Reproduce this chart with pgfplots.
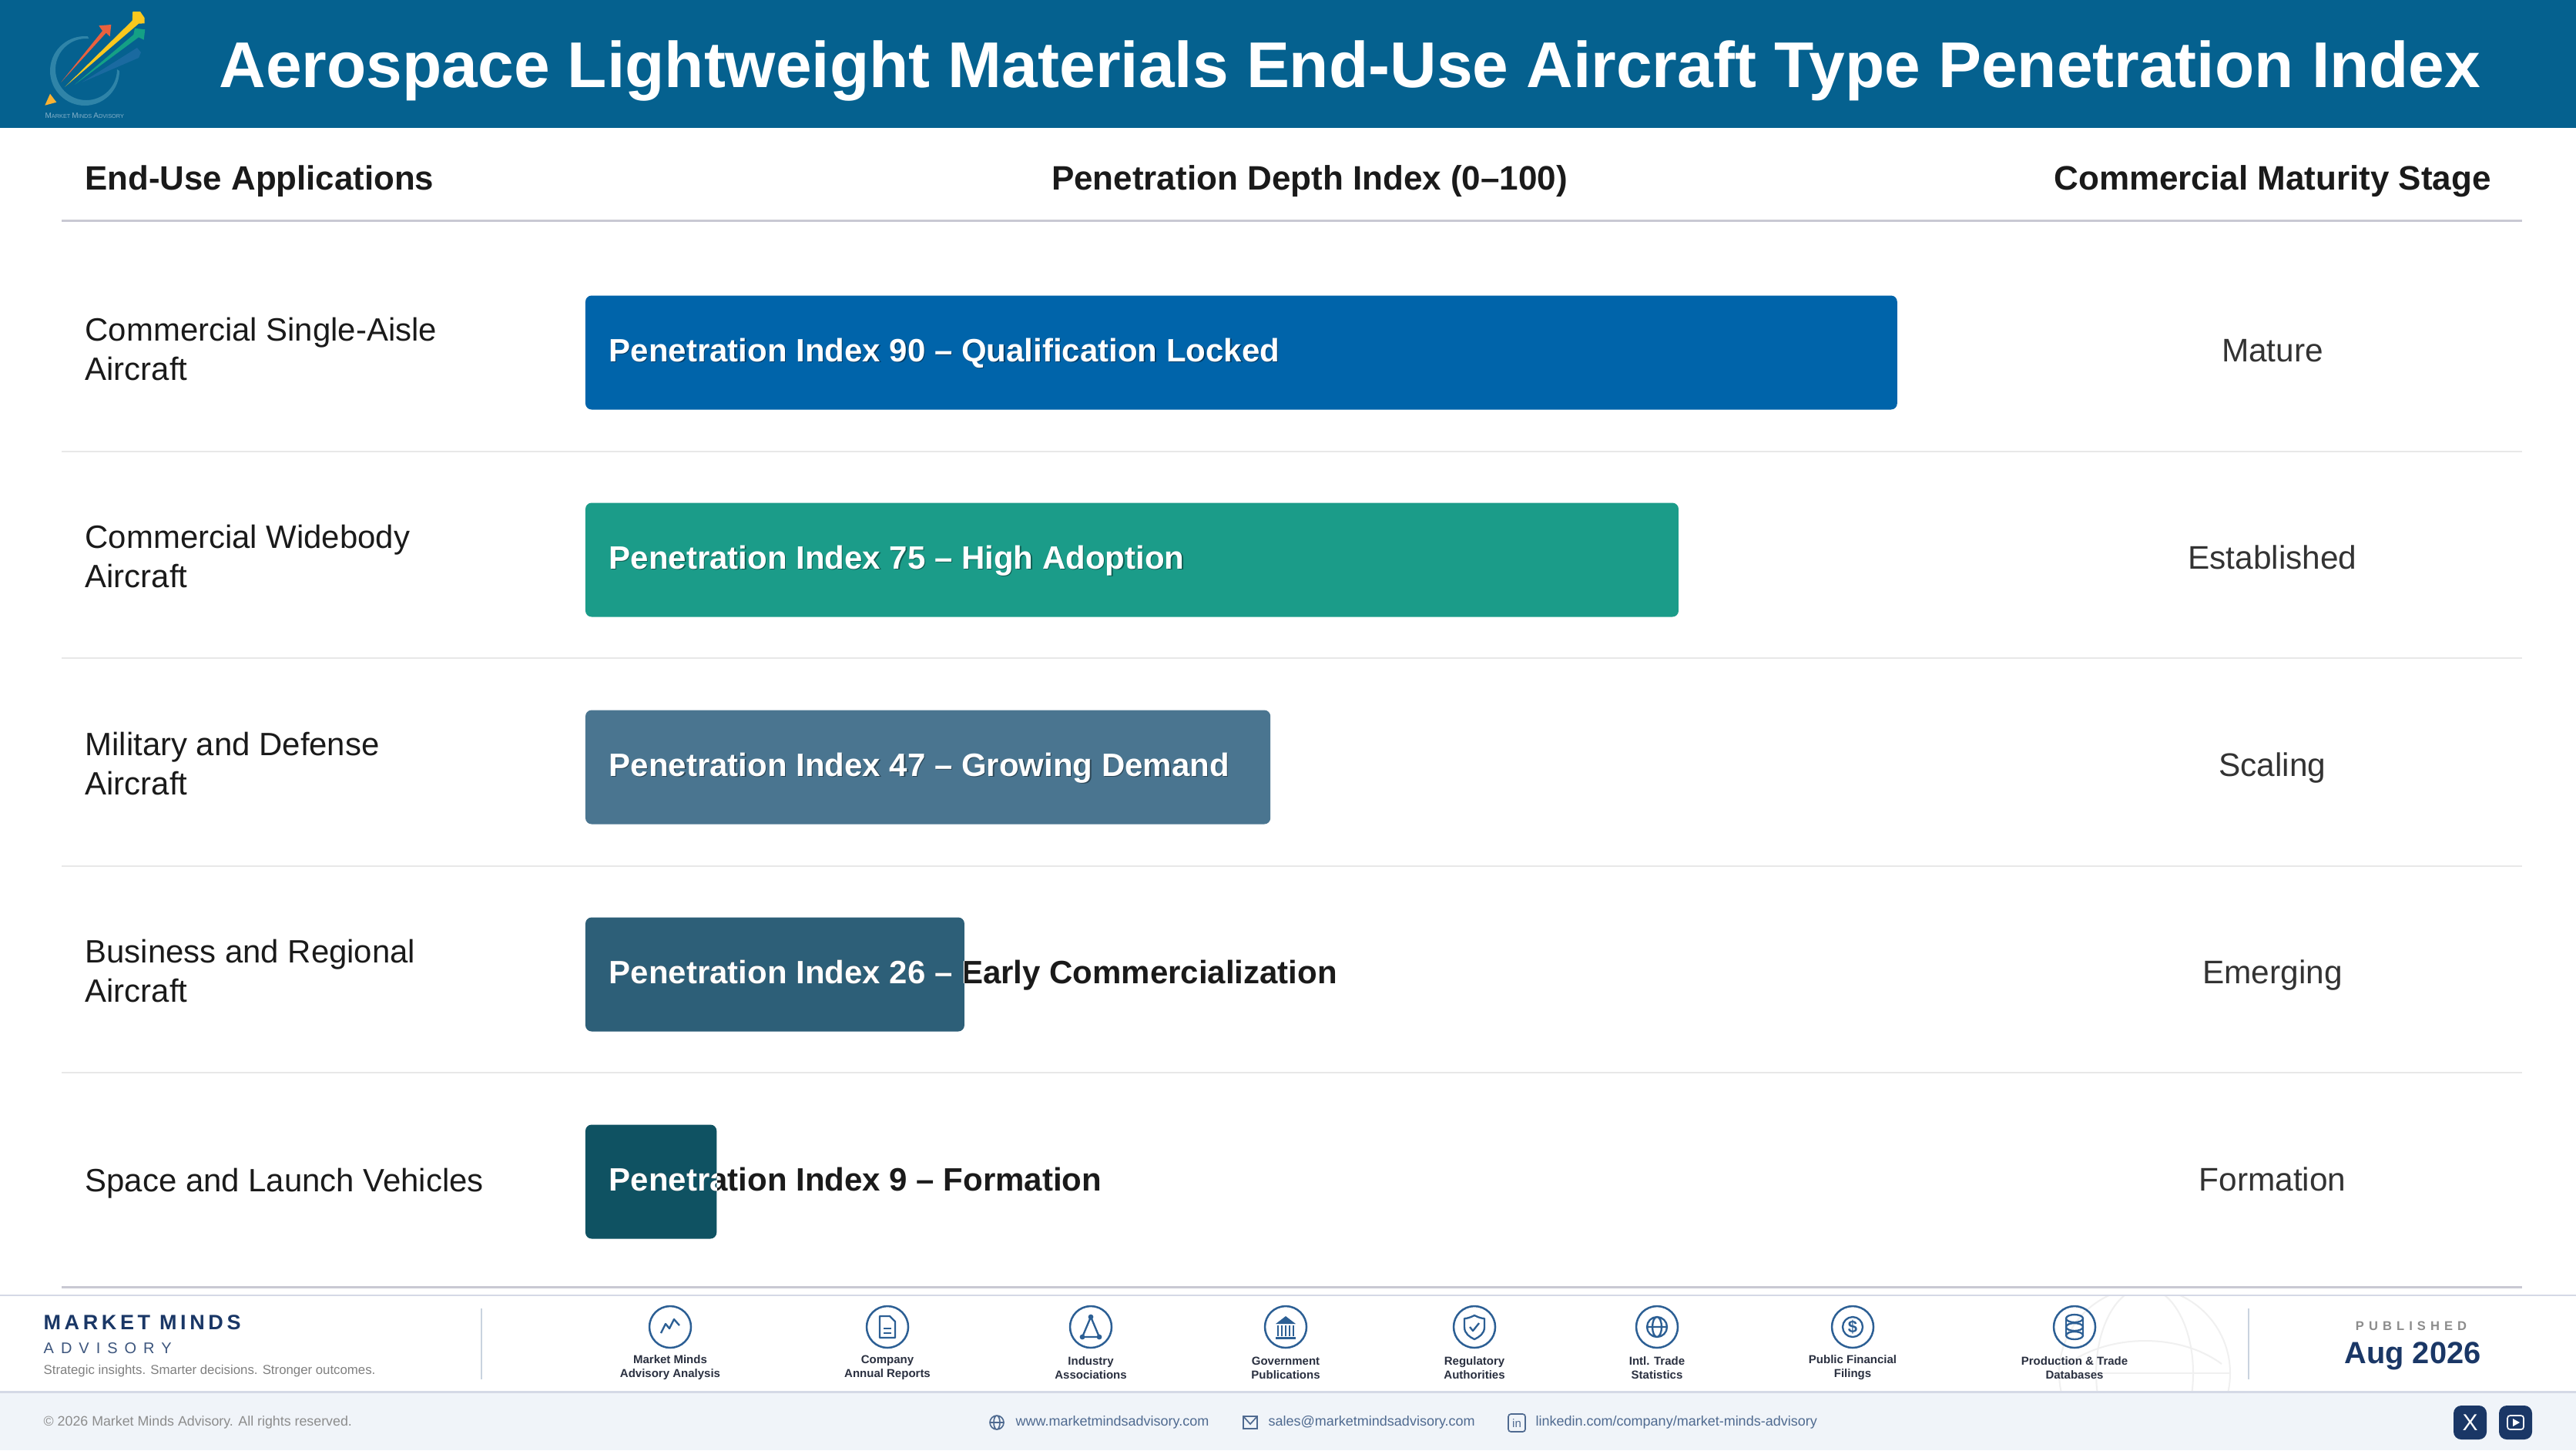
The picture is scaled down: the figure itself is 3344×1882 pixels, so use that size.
\documentclass[border=0pt]{standalone}
\usepackage{fontspec}
\setmainfont{Liberation Sans}
\newfontfamily\lsA[LetterSpace=17]{Liberation Sans}
\newfontfamily\lsB[LetterSpace=45]{Liberation Sans}
\newfontfamily\lsC[LetterSpace=37]{Liberation Sans}
\usepackage{pgfplots}
\pgfplotsset{compat=1.18}
\usepackage{xcolor}
\definecolor{hdr}{HTML}{05618F}
\definecolor{navy}{HTML}{1A3766}
\definecolor{ico}{HTML}{2C5F94}
\definecolor{barA}{HTML}{0064AA}
\definecolor{barB}{HTML}{1B9C89}
\definecolor{barC}{HTML}{4A7590}
\definecolor{barD}{HTML}{2D5F78}
\definecolor{barE}{HTML}{0F5262}
\definecolor{ink}{HTML}{1A1A1A}
\definecolor{stage}{HTML}{333333}
\definecolor{rule}{HTML}{C9C9D3}
\definecolor{sep}{HTML}{E8E8E8}
\definecolor{foot}{HTML}{F0F4F9}
\definecolor{fline}{HTML}{D5D9E6}
\definecolor{vline}{HTML}{C9D3DF}
\definecolor{flabel}{HTML}{2A3040}
\definecolor{link}{HTML}{4F6A90}
\definecolor{lgRing}{HTML}{2F84A8}
\definecolor{lgRed}{HTML}{E9613F}
\definecolor{lgYel}{HTML}{FBC81E}
\definecolor{lgGrn}{HTML}{14A085}
\definecolor{lgBlu}{HTML}{1A6AA0}
\definecolor{lgTri}{HTML}{F9B233}
\definecolor{lgTxt}{HTML}{86B2CA}
\newcommand\F[1]{\pgfmathsetmacro\fsz{#1*0.3}\pgfmathsetmacro\lsz{#1*0.36}\fontsize{\fsz pt}{\lsz pt}\selectfont}
\newcommand\barlabW[2]{% row, text: white on the bar
  \node[anchor=base west,inner sep=0pt,black,opacity=.4,xshift=.4pt,yshift=-3.6pt-.4pt] at (axis cs:1.585,#1) {\F{42}\bfseries #2};
  \node[anchor=base west,inner sep=0pt,white,yshift=-3.6pt] at (axis cs:1.585,#1) {\F{42}\bfseries #2};
}
\newcommand\barlabC[3]{% row, value, text: black outside, white clipped on bar
  \node[anchor=base west,inner sep=0pt,ink,yshift=-3.6pt] at (axis cs:1.585,#1) {\F{42}\bfseries #3};
  \begin{scope}
  \clip (axis cs:0,#1-0.28) rectangle (axis cs:#2,#1+0.28);
  \node[anchor=base west,inner sep=0pt,white,yshift=-3.6pt] at (axis cs:1.585,#1) {\F{42}\bfseries #3};
  \end{scope}
}
\newcommand\stagelab[2]{\node[anchor=base,inner sep=0pt,stage,yshift=-3.6pt] at (axis cs:115.75,#1) {\F{42.4}#2};}
\newcommand\flab[3]{\node[align=center,inner sep=0pt,flabel,font=\fontsize{4.5pt}{5.4pt}\selectfont\bfseries] at (#1,1775) {#2\\#3};}
\newcommand\ring[1]{\draw[ico,line width=.75pt] (#1,1722) circle[radius=27];}
\begin{document}
\begin{tikzpicture}[x=0.3pt,y=-0.3pt]
\path[use as bounding box] (0,0) rectangle (3344,1882);
\fill[white] (0,0) rectangle (3344,1882);
% header band
\fill[hdr] (0,0) rectangle (3344,166);
% logo
\fill[lgRing] (110,92) ++(-85:45) arc[start angle=-85,end angle=-360,radius=45] -- (152,90) arc[start angle=-360,end angle=-85,radius=40] -- cycle;
\fill[lgBlu] (106.7,106.7) -- (178,62) -- (183,68) -- (180,75) -- cycle;
\fill[lgRed] (79.3,106.7) -- (133,40) -- (128.3,33.3) -- (144.3,32) -- (142.7,47.3) -- (137.7,42.7) -- cycle;
\fill[lgYel] (84.3,112.7) -- (171.7,26.7) -- (172.3,15) -- (182,15) -- (187.7,23.3) -- (187.7,30.3) -- (180,30.7) -- cycle;
\fill[lgGrn] (96.7,110) -- (173.3,45) -- (175,36.7) -- (188.3,38.3) -- (186.7,51.7) -- (180,48.3) -- cycle;
\fill[lgTri] (65,121.7) -- (73.3,132.7) -- (58.3,136.7) -- cycle;
\node[anchor=west,inner sep=0pt,lgTxt] at (58,150) {\fontsize{3pt}{3pt}\selectfont M\fontsize{2.2pt}{3pt}\selectfont ARKET \fontsize{3pt}{3pt}\selectfont M\fontsize{2.2pt}{3pt}\selectfont INDS \fontsize{3pt}{3pt}\selectfont A\fontsize{2.2pt}{3pt}\selectfont DVISORY};
% title
\node[anchor=base west,inner sep=0pt,white] at (284,113) {\F{83.9}\bfseries Aerospace Lightweight Materials End-Use Aircraft Type Penetration Index};
% column heads
\node[anchor=base west,inner sep=0pt,ink] at (110,246) {\F{43.8}\bfseries End-Use Applications};
\node[anchor=base,inner sep=0pt,ink] at (1700,246) {\F{44}\bfseries Penetration Depth Index (0--100)};
\node[anchor=base,inner sep=0pt,ink] at (2950,246) {\F{44}\bfseries Commercial Maturity Stage};
\draw[rule,line width=.9pt] (80,286) -- (3274,286);
\foreach \yy in {585.5,854,1124,1392} \draw[sep,line width=.6pt] (80,\yy) -- (3274,\yy);
\draw[rule,line width=.9pt] (80,1670) -- (3274,1670);
% the bars
\begin{axis}[
  at={(228pt,-96.9pt)},anchor=north west,
  scale only axis,width=567.6pt,height=403.5pt,
  xmin=0,xmax=100,ymin=-0.5,ymax=4.5,y dir=reverse,
  clip=false,
  axis line style={draw=none},
  xtick=\empty,ytick={0,1,2,3,4},
  major tick length=0pt,
  yticklabels={{Commercial Single-Aisle\\Aircraft},{Commercial Widebody\\Aircraft},{Military and Defense\\Aircraft},{Business and Regional\\Aircraft},{\raisebox{0pt}[\dimexpr\height+3.88pt\relax][\depth]{Space and Launch Vehicles}}},
  y tick label style={anchor=west,align=left,inner sep=0pt,xshift=-195pt,yshift=1.25pt,text=ink,font=\fontsize{12.57pt}{15.35pt}\selectfont},
  xbar,bar width=44.4pt,bar shift=0pt,
  every axis plot/.append style={draw=none,rounded corners=2.4pt},
]
\addplot[fill=barA] coordinates {(90,0)};
\addplot[fill=barB] coordinates {(75,1)};
\addplot[fill=barC] coordinates {(47,2)};
\addplot[fill=barD] coordinates {(26,3)};
\addplot[fill=barE] coordinates {(9,4)};
\barlabW{0}{Penetration Index 90 -- Qualification Locked}
\barlabW{1}{Penetration Index 75 -- High Adoption}
\barlabW{2}{Penetration Index 47 -- Growing Demand}
\barlabC{3}{26}{Penetration Index 26 -- Early Commercialization}
\barlabC{4}{9}{Penetration Index 9 -- Formation}
\stagelab{0}{Mature}
\stagelab{1}{Established}
\stagelab{2}{Scaling}
\stagelab{3}{Emerging}
\stagelab{4}{Formation}
\end{axis}
% footer
\fill[foot] (0,1806) rectangle (3344,1882);
\begin{scope}
\clip (0,1681) rectangle (3344,1806);
\begin{scope}[color=black!6,line width=.6pt]
\draw (2784,1782) circle[radius=111];
\draw (2784,1782) ellipse[x radius=63,y radius=111];
\draw (2673,1782) -- (2895,1782);
\draw (2684,1770) .. controls (2740,1730) and (2830,1730) .. (2884,1770);
\end{scope}
\end{scope}
\draw[fline,line width=.7pt] (0,1681) -- (3344,1681);
\draw[fline,line width=.7pt] (0,1806.5) -- (3344,1806.5);
\node[anchor=base west,inner sep=0pt,navy] at (56,1725.5) {\lsA\F{27}\bfseries MARKET MINDS};
\node[anchor=base west,inner sep=0pt,color=navy!85!white] at (56,1756.5) {\lsB\F{20}ADVISORY};
\node[anchor=base west,inner sep=0pt,color=black!50] at (56,1783) {\F{16.8}Strategic insights. Smarter decisions. Stronger outcomes.};
\draw[vline,line width=.5pt] (625,1698) -- (625,1790);
\draw[vline,line width=.5pt] (2919,1698) -- (2919,1790);
% source icons
\ring{870}\ring{1152}\ring{1416}\ring{1669}\ring{1914}\ring{2151}\ring{2405}\ring{2693}
\begin{scope}[ico,line width=.7pt,line join=round]
\draw (858,1730) -- (864,1718) -- (869,1724) -- (875,1712) -- (882,1720);
\draw (1142,1708) -- (1155,1708) -- (1162,1715) -- (1162,1736) -- (1142,1736) -- cycle;
\draw (1147,1724) -- (1157,1724) (1147,1730) -- (1157,1730);
\draw (1416,1709) -- (1405,1735) -- (1427,1735) -- cycle;
\fill (1416,1709) circle[radius=3.4] (1405,1735) circle[radius=3.4] (1427,1735) circle[radius=3.4];
\fill (1656,1718) -- (1669,1708) -- (1682,1718) -- cycle;
\fill (1656,1735) rectangle (1682,1738);
\foreach \xx in {1659,1664,1669,1674,1679} \draw (\xx,1720) -- (\xx,1734);
\draw (1914,1707) .. controls (1908,1710) and (1904,1711) .. (1901,1711) -- (1901,1722) .. controls (1901,1731) and (1908,1735) .. (1914,1738) .. controls (1920,1735) and (1927,1731) .. (1927,1722) -- (1927,1711) .. controls (1924,1711) and (1920,1710) .. (1914,1707) -- cycle;
\draw (1908,1722) -- (1912,1727) -- (1920,1717);
\draw (2151,1722) circle[radius=13] (2151,1722) ellipse[x radius=6,y radius=13] (2138,1722) -- (2164,1722);
\draw (2405,1722) circle[radius=13];
\node[inner sep=0pt] at (2405,1722) {\F{22}\bfseries\$};
\draw (2693,1711) ellipse[x radius=11,y radius=5];
\draw (2682,1711) -- (2682,1733) (2704,1711) -- (2704,1733);
\draw (2693,1733) ellipse[x radius=11,y radius=5];
\draw (2693,1722) ellipse[x radius=11,y radius=5];
\end{scope}
\flab{870}{Market Minds}{Advisory Analysis}
\flab{1152}{Company}{Annual Reports}
\flab{1416}{Industry}{Associations}
\flab{1669}{Government}{Publications}
\flab{1914}{Regulatory}{Authorities}
\flab{2151}{Intl. Trade}{Statistics}
\flab{2405}{Public Financial}{Filings}
\flab{2693}{Production \& Trade}{Databases}
% published
\node[anchor=base,inner sep=0pt,color=black!45] at (3130,1726) {\lsC\F{16.5}\bfseries PUBLISHED};
\node[anchor=base,inner sep=0pt,navy] at (3132,1769) {\F{39.8}\bfseries Aug 2026};
% bottom strip
\node[anchor=base west,inner sep=0pt,color=black!45] at (56,1850.5) {\F{17.8}\textcopyright{} 2026 Market Minds Advisory. All rights reserved.};
\node[anchor=base west,inner sep=0pt,link] at (1318,1850.5) {\F{18}www.marketmindsadvisory.com};
\node[anchor=base west,inner sep=0pt,link] at (1646,1850.5) {\F{18}sales@marketmindsadvisory.com};
\node[anchor=base west,inner sep=0pt,link] at (1993,1850.5) {\F{18}linkedin.com/company/market-minds-advisory};
\begin{scope}[link,line width=.5pt]
\draw (1294,1846) circle[radius=9] (1294,1846) ellipse[x radius=4,y radius=9] (1285,1846) -- (1303,1846);
\draw (1614,1838) rectangle (1632,1854);
\draw (1614,1838) -- (1623,1848) -- (1632,1838);
\draw[rounded corners=1pt] (1958,1835) rectangle (1980,1858);
\node[inner sep=0pt] at (1969,1847) {\F{15}in};
\end{scope}
\fill[navy,rounded corners=3pt] (3185,1824) rectangle (3228,1868);
\fill[navy,rounded corners=3pt] (3244,1824) rectangle (3287,1868);
\node[white,inner sep=0pt] at (3206.5,1846) {\F{30}X};
\draw[white,line width=.5pt,rounded corners=1pt] (3255,1837) rectangle (3276,1855);
\fill[white] (3262,1841) -- (3271,1846) -- (3262,1851) -- cycle;
\end{tikzpicture}
\end{document}
